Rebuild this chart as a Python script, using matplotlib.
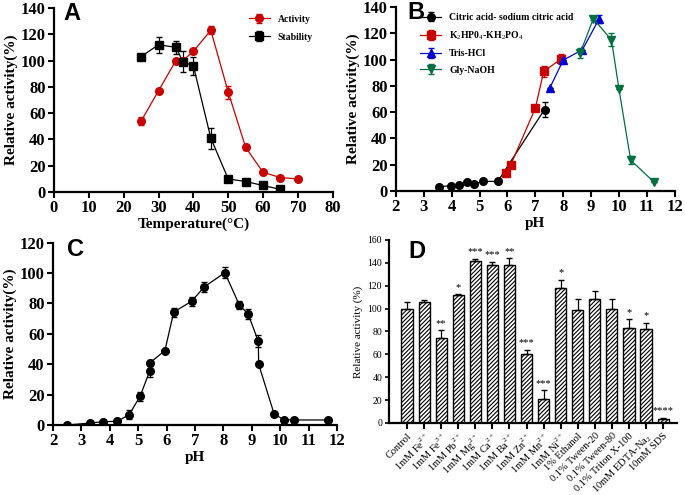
import numpy as np
import matplotlib
matplotlib.use('Agg')
import matplotlib.pyplot as plt

plt.rcParams['font.family'] = ['Liberation Serif', 'DejaVu Serif']
plt.rcParams['mathtext.fontset'] = 'custom'
plt.rcParams['mathtext.rm'] = 'Liberation Serif'
plt.rcParams['mathtext.bf'] = 'Liberation Serif:bold'
plt.rcParams['hatch.linewidth'] = 0.8
plt.rcParams['hatch.color'] = 'black'

# ---- panel A: temperature
temp_act = [25, 30, 35, 37, 40, 45, 50, 55, 60, 65, 70]
act = [54, 77, 100, 100, 107, 123, 76, 34, 15, 11, 10]
act_err = [3, 1, 1, 1, 1, 3, 5, 2, 1, 1, 1]
temp_stab = [25, 30, 35, 37, 40, 45, 50, 55, 60, 65]
stab = [103, 112, 110, 99, 96, 41, 10, 8, 5, 2]
stab_err = [1, 6, 5, 8, 7, 8, 1, 1, 1, 1]

# ---- panel B: buffers
ph_cit = [3.55, 3.96, 4.26, 4.56, 4.8, 5.13, 5.65, 7.33]
cit = [3.4, 4, 4.5, 7, 5.5, 7.4, 7.3, 62]
cit_err = [0, 0, 0, 0, 0, 0, 0, 6]
ph_pho = [5.96, 6.12, 7.0, 7.3, 7.93]
pho = [14, 20, 63, 91, 100.5]
pho_err = [0, 0, 0, 4, 4]
ph_tris = [7.51, 8.0, 8.69, 9.29]
tris = [78, 99.5, 107.5, 131]
tris_err = [0, 0, 0, 3]
ph_gly = [8.61, 9.08, 9.73, 10.0, 10.42, 11.25]
gly = [105, 131, 115, 77.6, 23.5, 7]
gly_err = [4, 1, 5, 0, 3, 0]

# ---- panel C: pH stability
ph_c = [2.5, 3.31, 3.76, 4.26, 4.68, 5.07, 5.4, 5.42, 5.94, 6.25, 6.89,
        7.32, 8.05, 8.56, 8.87, 9.23, 9.24, 9.79, 10.14, 10.5, 11.7]
act_c = [0, 1.3, 2.2, 2.4, 6.8, 19, 35.4, 41, 49, 74.3, 81.5,
         90.8, 100.2, 79, 73, 55, 40, 7, 3.5, 3.3, 3.3]
err_c = [0, 0, 0, 0, 3, 3, 4, 2, 0, 3, 3,
         3, 3.5, 2.5, 3, 4, 0, 0, 0, 0, 0]

# ---- panel D: effectors
labels_d = ['Control', '1mM Fe$^{2+}$', '1mM Fe$^{3+}$', '1mM Pb$^{2+}$',
            '1mM Mg$^{2+}$', '1mM Ca$^{2+}$', '1mM Ba$^{2+}$', '1mM Zn$^{2+}$',
            '1mM Mn$^{2+}$', '1mM Ni$^{2+}$', '1% Ethanol', '0.1% Tween-20',
            '0.1% Tween-80', '0.1% Triton X-100', '10mM EDTA-Na$_2$', '10mM SDS']
vals_d = [100, 105.5, 74.3, 112, 141.5, 138, 138, 60, 20.7, 118, 99, 108,
          99.4, 83.4, 82.5, 3.5]
err_d = [6, 1.5, 7, 0.5, 2, 3, 6, 4, 8, 7, 9.5, 7, 8.7, 7, 5, 1]
stars_d = ['', '', '**', '*', '***', '***', '**', '***', '***', '*', '', '',
           '', '*', '*', '****']

fig = plt.figure(figsize=(6.85, 4.95), dpi=100)


def style(ax, fs=12, bold=True):
    for s in ['top', 'right']:
        ax.spines[s].set_visible(False)
    for s in ['left', 'bottom']:
        ax.spines[s].set_linewidth(1.6)
    ax.tick_params(direction='out', length=4, width=1.5, labelsize=fs, pad=2)
    if bold:
        for t in ax.get_xticklabels() + ax.get_yticklabels():
            t.set_fontweight('bold')


red = '#c80000'
kw = dict(ms=5.5, lw=0.9, capsize=2.5, elinewidth=0.9)

axA = fig.add_axes([0.0788, 0.612, 0.407, 0.372])
axA.errorbar(temp_act, act, yerr=act_err, color=red, marker='o', label='Activity', **kw)
axA.errorbar(temp_stab, stab, yerr=stab_err, color='black', marker='s',
             label='Stability', **kw)
axA.set_xlim(0, 80)
axA.set_ylim(0, 140)
axA.set_xticks(np.arange(0, 81, 10))
axA.set_yticks(np.arange(0, 141, 20))
style(axA)
axA.set_xlabel('Temperature(°C)', fontsize=11, fontweight='bold', labelpad=1)
axA.set_ylabel('Relative activity(%)', fontsize=11, fontweight='bold', labelpad=2)
axA.legend(loc='upper right', bbox_to_anchor=(0.96, 1.01), frameon=False,
           prop={'size': 7, 'weight': 'bold'}, handlelength=2.2, labelspacing=0.9)

axB = fig.add_axes([0.578, 0.614, 0.407, 0.372])
axB.errorbar(ph_cit, cit, yerr=cit_err, color='black', marker='o',
             label='Citric acid- sodium citric acid', **kw)
axB.errorbar(ph_pho, pho, yerr=pho_err, color=red, marker='s',
             label='K$_2$HP0$_4$-KH$_2$PO$_4$', **kw)
axB.errorbar(ph_tris, tris, yerr=tris_err, color='#0000d0', marker='^',
             label='Tris-HCl', **kw)
axB.errorbar(ph_gly, gly, yerr=gly_err, color='#007040', marker='v',
             label='Gly-NaOH', **kw)
axB.set_xlim(2, 12)
axB.set_ylim(0, 140)
axB.set_xticks(np.arange(2, 13, 1))
axB.set_yticks(np.arange(0, 141, 20))
style(axB)
axB.set_xlabel('pH', fontsize=11, fontweight='bold', labelpad=1)
axB.set_ylabel('Relative activity(%)', fontsize=11, fontweight='bold', labelpad=2)
axB.legend(loc='upper left', bbox_to_anchor=(0.055, 1.015), frameon=False,
           prop={'size': 7, 'weight': 'bold'}, handlelength=2.2, labelspacing=0.75)

axC = fig.add_axes([0.0774, 0.1414, 0.4146, 0.3685])
axC.errorbar(ph_c, act_c, yerr=err_c, color='black', marker='o', **kw)
axC.set_xlim(2, 12)
axC.set_ylim(0, 120)
axC.set_xticks(np.arange(2, 13, 1))
axC.set_yticks(np.arange(0, 121, 20))
style(axC)
axC.set_xlabel('pH', fontsize=11, fontweight='bold', labelpad=1)
axC.set_ylabel('Relative activity(%)', fontsize=11, fontweight='bold', labelpad=2)

axD = fig.add_axes([0.568, 0.1455, 0.42, 0.37])
xd = np.arange(len(vals_d))
axD.bar(xd, vals_d, width=0.65, color='white', edgecolor='black', lw=1.0,
        hatch='////////', zorder=2)
axD.errorbar(xd, vals_d, yerr=[np.zeros(len(err_d)), err_d], fmt='none',
             ecolor='black', elinewidth=0.9, capsize=2.5, zorder=3)
for i in range(len(xd)):
    if stars_d[i]:
        axD.text(xd[i], vals_d[i] + err_d[i] + 2, stars_d[i], ha='center',
                 va='bottom', fontsize=7.5)
axD.set_xlim(-1.05, 15.8)
axD.set_ylim(0, 160)
axD.set_yticks(np.arange(0, 161, 20))
axD.set_xticks(xd)
axD.set_xticklabels(labels_d, rotation=45, ha='right', rotation_mode='anchor')
style(axD, fs=7.5, bold=False)
axD.tick_params(axis='y', length=3, width=1.2, labelsize=7)
axD.set_ylabel('Relative activity (%)', fontsize=8, labelpad=3)

lf = {'family': 'Liberation Sans', 'weight': 'bold', 'size': 17}
fig.text(0.092, 0.995, 'A', va='top', fontdict=lf)
fig.text(0.594, 0.997, 'B', va='top', fontdict=lf)
fig.text(0.098, 0.52, 'C', va='top', fontdict=lf)
fig.text(0.596, 0.516, 'D', va='top', fontdict=lf)

fig.savefig('out.png', dpi=100)
